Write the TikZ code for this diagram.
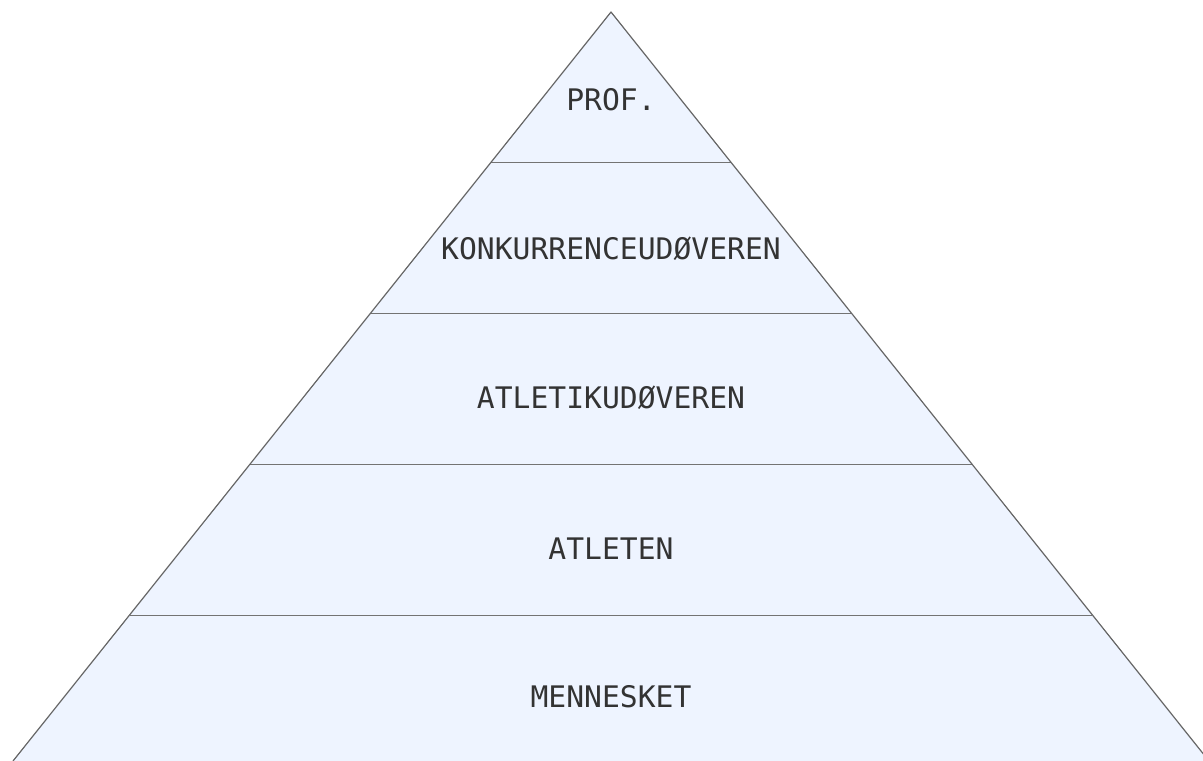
\documentclass[tikz,border=0pt]{standalone}
\usepackage{fontspec}
\setmonofont{DejaVu Sans Mono}
\begin{document}
\begin{tikzpicture}[x=1bp,y=-1bp,
  lvl/.style={font=\ttfamily\fontsize{29.8}{32}\selectfont, text=black!80, inner sep=0pt},
  edge/.style={draw=black!60, line width=1.2bp},
  sep/.style={draw=black!55, line width=0.9bp}]
\useasboundingbox (0,0) rectangle (1203,761);
\begin{scope}
\clip (0,0) rectangle (1203,761);
\coordinate (apex) at (611,12);
\coordinate (bl) at (13,761);
\coordinate (br) at (1209,761);
\fill[fill={rgb,255:red,238;green,244;blue,255}] (apex) -- (bl) -- (br) -- cycle;
\foreach \y [count=\i] in {162,313,464,615}{
  \pgfmathsetmacro{\hw}{(\y-12)*0.798}
  \coordinate (l\i) at ({611-\hw},\y);
  \coordinate (r\i) at ({611+\hw},\y);
  \draw[sep] (l\i) -- (r\i);
}
\draw[edge, line join=round] (bl) -- (apex) -- (br);
\end{scope}
\node[lvl] (n1) at (611,100) {PROF.};
\node[lvl] (n2) at (611,249) {KONKURRENCEUDØVEREN};
\node[lvl] (n3) at (611,398) {ATLETIKUDØVEREN};
\node[lvl] (n4) at (611,549) {ATLETEN};
\node[lvl] (n5) at (611,697) {MENNESKET};
\end{tikzpicture}
\end{document}
